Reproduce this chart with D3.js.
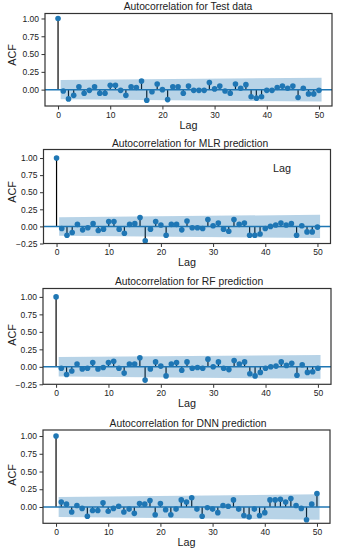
<!DOCTYPE html>
<html>
<head>
<meta charset="utf-8">
<script src="https://cdn.jsdelivr.net/npm/d3@7"></script>
<style>
  html, body { margin: 0; padding: 0; background: #fff; }
  svg { display: block; }
  text { font-family: "Liberation Sans", Arial, sans-serif; fill: #222; }
</style>
</head>
<body>
<div id="chart"></div>
<script>
// lags 0..50
var lags = [0,1,2,3,4,5,6,7,8,9,10,11,12,13,14,15,16,17,18,19,20,21,22,23,24,25,
  26,27,28,29,30,31,32,33,34,35,36,37,38,39,40,41,42,43,44,45,46,47,48,49,50];

var titles = ["Autocorrelation for Test data", "Autocorrelation for MLR prediction",
  "Autocorrelation for RF prediction", "Autocorrelation for DNN prediction"];

var acfTest = [1.00,-0.02,-0.13,-0.08,0.04,-0.05,-0.01,0.04,-0.05,-0.05,0.06,0.06,-0.01,-0.08,0.04,0.03,
  0.12,-0.15,-0.03,0.08,0.00,-0.14,0.04,0.04,-0.05,0.05,-0.01,-0.01,-0.01,0.10,0.01,0.05,-0.02,
  -0.05,0.08,0.02,0.07,-0.10,-0.12,-0.10,-0.01,-0.01,0.03,0.05,0.02,0.05,-0.11,0.02,-0.06,-0.06,-0.01];
var acfMLR = [1.00,-0.03,-0.13,-0.09,0.03,-0.05,-0.02,0.04,-0.06,-0.04,0.07,0.07,-0.04,-0.10,0.03,0.04,
  0.13,-0.21,-0.04,0.07,0.02,-0.13,0.03,0.03,-0.05,0.08,-0.02,-0.02,-0.03,0.10,0.01,0.05,-0.04,
  -0.07,0.10,0.03,0.05,-0.13,-0.13,-0.11,-0.03,0.00,0.02,0.05,0.02,0.04,-0.13,0.01,-0.08,-0.08,-0.01];
var acfRF = [1.00,-0.02,-0.11,-0.06,0.04,-0.03,-0.02,0.06,-0.03,-0.01,0.06,0.08,-0.02,-0.09,0.04,0.04,
  0.13,-0.19,-0.03,0.07,0.01,-0.13,0.04,0.06,-0.05,0.07,-0.02,-0.01,-0.02,0.11,0.00,0.07,-0.02,
  -0.04,0.09,0.04,0.07,-0.10,-0.13,-0.08,-0.02,0.00,0.01,0.07,0.02,0.05,-0.12,0.03,-0.08,-0.07,-0.02];
var acfDNN = [1.00,0.07,0.04,-0.07,0.02,-0.02,-0.13,-0.05,-0.05,0.06,-0.06,-0.02,0.01,-0.07,-0.03,-0.09,
  0.05,0.04,0.09,-0.11,0.05,-0.04,-0.11,-0.03,0.10,0.07,0.13,-0.03,-0.13,-0.01,-0.03,-0.08,0.02,
  0.01,0.10,-0.03,-0.12,-0.14,-0.03,-0.12,-0.08,0.10,0.10,0.11,0.07,0.12,0.02,-0.02,-0.18,0.04,0.19];

// confidence band half-width at first and last lag
var bandLags = [0.5, 50.5];
var bandTest = [0.135, 0.168];
var bandMLR = [0.135, 0.17];
var bandRF = [0.14, 0.17];
var bandDNN = [0.14, 0.18];

var xTicks = [0, 10, 20, 30, 40, 50];
var yTicksA = [0, 0.25, 0.5, 0.75, 1];
var yTicksB = [-0.25, 0, 0.25, 0.5, 0.75, 1];

var blue = "#1f77b4";

// per panel layout (pixels)
var panels = [
  {title: titles[0], acf: acfTest, band: bandTest, yTicks: yTicksA, yDom: [-0.23, 1.07],
   left: 45, right: 332, top: 13.5, bottom: 106, titleY: 10, titleX: 188, acfY: 55},
  {title: titles[1], acf: acfMLR, band: bandMLR, yTicks: yTicksB, yDom: [-0.25, 1.125],
   left: 43.5, right: 330.5, top: 149.5, bottom: 243.5, titleY: 146.5, titleX: 190, acfY: 192, strayLag: true},
  {title: titles[2], acf: acfRF, band: bandRF, yTicks: yTicksB, yDom: [-0.25, 1.12],
   left: 43, right: 331, top: 288.5, bottom: 384.3, titleY: 285, titleX: 189, acfY: 335},
  {title: titles[3], acf: acfDNN, band: bandDNN, yTicks: yTicksA, yDom: [-0.23, 1.085],
   left: 43, right: 330, top: 430, bottom: 523.3, titleY: 426.5, titleX: 188, acfY: 475}
];

var svg = d3.select("#chart").append("svg")
  .attr("width", 337)
  .attr("height", 550);

panels.forEach(function(p) {
  var x = d3.scaleLinear().domain([-2.5, 52.5]).range([p.left, p.right]);
  var y = d3.scaleLinear().domain(p.yDom).range([p.bottom, p.top]);
  var g = svg.append("g");

  // stems
  g.selectAll("line.stem")
    .data(lags)
    .enter().append("line")
      .attr("class", "stem")
      .attr("x1", function(d){ return x(d); })
      .attr("x2", function(d){ return x(d); })
      .attr("y1", y(0))
      .attr("y2", function(d, i){ return y(p.acf[i]); })
      .attr("stroke", "#000")
      .attr("stroke-width", 1.2);

  // markers
  g.selectAll("circle")
    .data(lags)
    .enter().append("circle")
      .attr("cx", function(d){ return x(d); })
      .attr("cy", function(d, i){ return y(p.acf[i]); })
      .attr("r", 2.8)
      .attr("fill", blue);

  // zero line
  g.append("line")
    .attr("x1", p.left).attr("x2", p.right)
    .attr("y1", y(0)).attr("y2", y(0))
    .attr("stroke", blue)
    .attr("stroke-width", 1.5);

  // confidence band
  var area = d3.area()
    .x(function(d){ return x(d); })
    .y0(function(d, i){ return y(-p.band[i]); })
    .y1(function(d, i){ return y(p.band[i]); });
  g.append("path")
    .datum(bandLags)
    .attr("d", area)
    .attr("fill", blue)
    .attr("fill-opacity", 0.32);

  // axes
  var xAxis = d3.axisBottom(x).tickValues(xTicks).tickSize(3.5).tickPadding(2);
  var yAxis = d3.axisLeft(y).tickValues(p.yTicks).tickSize(3.5).tickPadding(2.5)
    .tickFormat(d3.format(".2f"));

  var gx = g.append("g").attr("transform", "translate(0," + p.bottom + ")").call(xAxis);
  var gy = g.append("g").attr("transform", "translate(" + p.left + ",0)").call(yAxis);
  [gx, gy].forEach(function(a) {
    a.select(".domain").remove();
    a.selectAll(".tick line").attr("stroke", "#333").attr("stroke-width", 1);
    a.selectAll(".tick text").style("font-size", "8.5px").attr("fill", "#222")
      .style("font-family", "'Liberation Sans', Arial, sans-serif");
  });

  // frame
  g.append("rect")
    .attr("x", p.left).attr("y", p.top)
    .attr("width", p.right - p.left).attr("height", p.bottom - p.top)
    .attr("fill", "none")
    .attr("stroke", "#333")
    .attr("stroke-width", 1.2);

  // labels
  g.append("text")
    .attr("x", p.titleX).attr("y", p.titleY)
    .attr("text-anchor", "middle")
    .style("font-size", "10.3px")
    .text(p.title);

  g.append("text")
    .attr("x", (p.left + p.right) / 2).attr("y", p.bottom + 22.5)
    .attr("text-anchor", "middle")
    .style("font-size", "10.8px")
    .text("Lag");

  g.append("text")
    .attr("transform", "translate(16," + p.acfY + ") rotate(-90)")
    .attr("text-anchor", "middle")
    .style("font-size", "10.8px")
    .text("ACF");

  if (p.strayLag) {
    g.append("text")
      .attr("x", 282).attr("y", 171.5)
      .attr("text-anchor", "middle")
      .style("font-size", "10.8px")
      .text("Lag");
  }
});
</script>
</body>
</html>
